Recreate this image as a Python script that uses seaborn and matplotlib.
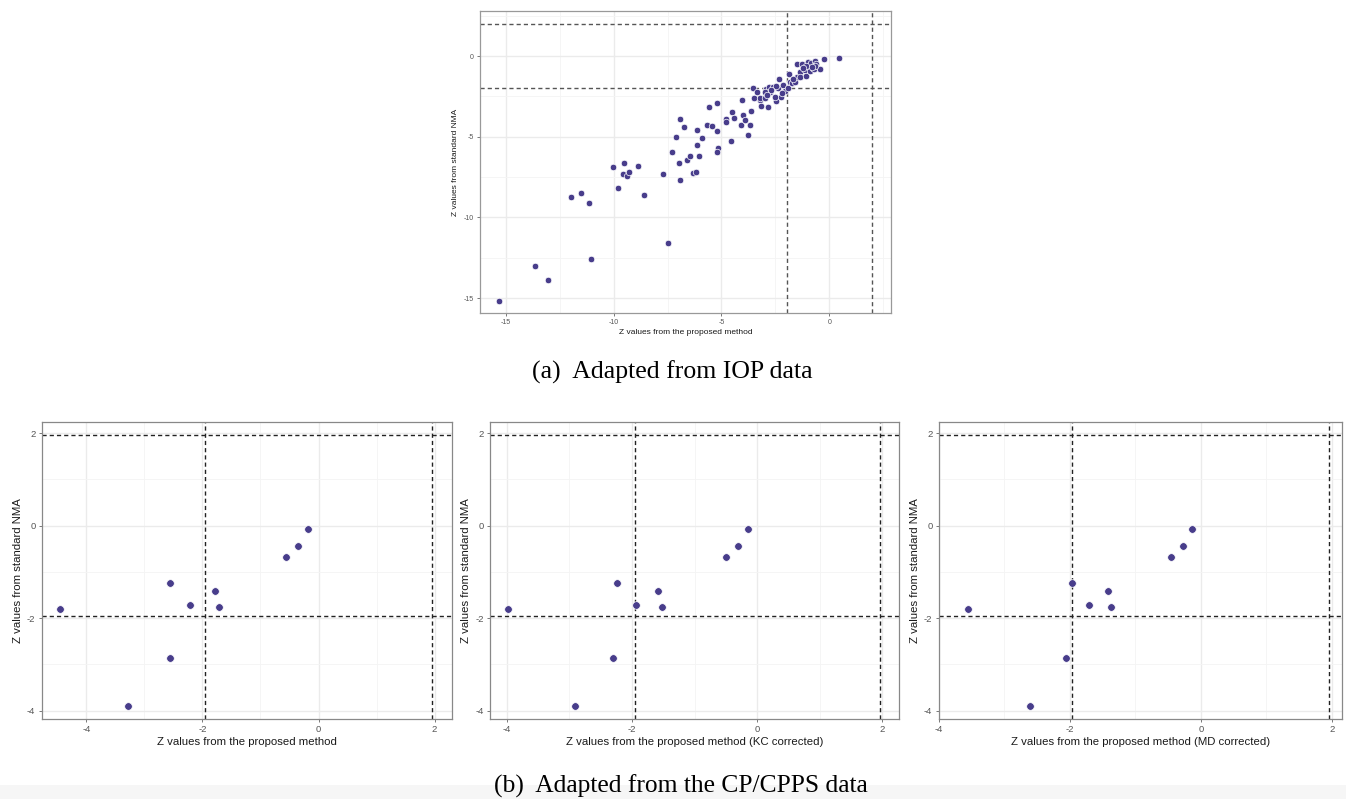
import numpy as np
import pandas as pd
import matplotlib
matplotlib.use('Agg')
import matplotlib.pyplot as plt
from matplotlib.patches import Rectangle
import seaborn as sns

# Panel (a): IOP data
iop_x = [-15.31, -13.63, -13.04, -11.99, -11.50, -11.13, -11.06, -10.02, -9.80, -9.54,
         -9.55, -9.40, -9.27, -8.86, -8.60, -7.72, -7.48, -7.28, -7.10, -6.93,
         -6.96, -6.91, -6.74, -6.60, -6.47, -6.34, -6.20, -6.14, -6.13, -6.02,
         -5.88, -5.69, -5.60, -5.45, -5.23, -5.19, -5.15, -5.20, -4.81, -4.81,
         -4.57, -4.49, -4.44, -4.10, -4.03, -4.00, -3.90, -3.75, -3.69, -3.61,
         -3.55, -3.47, -3.35, -3.23, -3.18, -3.19, -2.98, -2.95, -2.84, -2.79,
         -2.75, -2.47, -2.39, -2.33, -2.24, -2.15, -2.05, -1.90, -1.88, -1.82,
         -1.71, -1.60, -1.50, -1.50, -1.37, -1.37, -1.27, -1.11, -1.08, -1.00,
         -0.91, -0.85, -0.76, -0.73, -0.65, -0.60, -0.45, -0.23, 0.46,
         -1.06, -0.65, -2.61, -2.45, -2.70, -3.00, -2.90, -1.20, -0.80, -1.70,
         -2.20, -2.50]
iop_y = [-15.17, -13.02, -13.88, -8.74, -8.47, -9.13, -12.60, -6.88, -8.16, -6.61,
         -7.29, -7.44, -7.17, -6.80, -8.60, -7.29, -11.59, -5.93, -5.02, -3.90,
         -6.65, -7.71, -4.42, -6.45, -6.22, -7.23, -7.17, -4.61, -5.52, -6.22,
         -5.06, -4.30, -3.14, -4.32, -4.63, -2.93, -5.72, -5.93, -3.88, -4.09,
         -5.25, -3.47, -3.86, -4.30, -2.75, -3.64, -3.99, -4.88, -4.30, -3.41,
         -1.96, -2.58, -2.25, -2.73, -3.10, -2.58, -2.58, -2.05, -3.14, -1.92,
         -2.25, -2.79, -1.98, -1.45, -2.56, -1.82, -2.15, -1.98, -1.12, -1.61,
         -1.69, -1.63, -0.52, -1.32, -1.01, -1.32, -0.52, -0.89, -1.24, -0.35,
         -0.95, -0.45, -0.72, -0.81, -0.33, -0.50, -0.83, -0.21, -0.10,
         -0.62, -0.62, -1.90, -1.84, -2.10, -2.20, -2.40, -0.75, -0.65, -1.45,
         -2.30, -2.55]

# Panel (b): CP/CPPS data, same standard NMA z values in all three
cp_nma = [-1.81, -3.90, -1.23, -2.87, -1.72, -1.42, -1.76, -0.67, -0.44, -0.07]
cp_proposed = [-4.46, -3.28, -2.56, -2.56, -2.22, -1.79, -1.71, -0.56, -0.36, -0.18]
cp_kc = [-3.98, -2.91, -2.24, -2.30, -1.94, -1.59, -1.52, -0.50, -0.31, -0.15]
cp_md = [-3.56, -2.60, -1.96, -2.06, -1.70, -1.42, -1.37, -0.45, -0.27, -0.13]

x_labels = ['Z values from the proposed method',
            'Z values from the proposed method (KC corrected)',
            'Z values from the proposed method (MD corrected)']
y_label = 'Z values from standard NMA'
cap_a = '(a)  Adapted from IOP data'
cap_b = '(b)  Adapted from the CP/CPPS data'

POINT = '#483D8B'
CRIT = 1.96

sns.set_theme(style='white')
plt.rcParams['font.family'] = ['Liberation Sans', 'DejaVu Sans']
plt.rcParams['axes.unicode_minus'] = False


def style_panel(ax, xlim, ylim, major, minor_x, minor_y, fs_tick, fs_lab,
                xlabel, line_col, frame_col):
    ax.set_xlim(*xlim)
    ax.set_ylim(*ylim)
    ax.set_xticks(major[0])
    ax.set_yticks(major[1])
    ax.set_xticks(minor_x, minor=True)
    ax.set_yticks(minor_y, minor=True)
    ax.grid(which='major', color='#EBEBEB', linewidth=1.0)
    ax.grid(which='minor', color='#F4F4F4', linewidth=0.6)
    ax.set_axisbelow(True)
    for sp in ax.spines.values():
        sp.set_color(frame_col)
        sp.set_linewidth(0.9)
    ax.tick_params(which='major', length=2.5, width=0.5, color='#444444',
                   labelsize=fs_tick, labelcolor='#555555', pad=2,
                   bottom=True, left=True)
    ax.tick_params(which='minor', length=0)
    for v in (-CRIT, CRIT):
        ax.axhline(v, color=line_col, linestyle=(0, (3, 2.2)), linewidth=1.0, zorder=1)
        ax.axvline(v, color=line_col, linestyle=(0, (3, 2.2)), linewidth=1.0, zorder=1)
    ax.set_xlabel(xlabel, fontsize=fs_lab, color='#1a1a1a', labelpad=2)
    ax.set_ylabel(y_label, fontsize=fs_lab, color='#1a1a1a', labelpad=3)


fig = plt.figure(figsize=(13.46, 7.99), dpi=100)

# top panel
ax_a = fig.add_axes([480 / 1346, 1 - 313 / 799, 410.7 / 1346, 302 / 799])
df_a = pd.DataFrame({'proposed': iop_x, 'nma': iop_y})
sns.scatterplot(data=df_a, x='proposed', y='nma', ax=ax_a, color=POINT, s=22,
                edgecolor='white', linewidth=0.5, zorder=3)
style_panel(ax_a, (-16.2, 2.85), (-15.92, 2.79),
            ([-15, -10, -5, 0], [-15, -10, -5, 0]),
            [-12.5, -7.5, -2.5, 2.5], [-12.5, -7.5, -2.5, 2.5],
            5.0, 6.0, x_labels[0], '#555555', '#999999')

# bottom panels
bottom_boxes = [
    (41.7, 410.3, (-4.77, 2.3)),
    (490.0, 409.3, (-4.27, 2.27)),
    (938.7, 403.0, (-3.84, 2.15)),
]
bottom_x = [cp_proposed, cp_kc, cp_md]
for (left, width, xlim), xs, xl in zip(bottom_boxes, bottom_x, x_labels):
    ax = fig.add_axes([left / 1346, 1 - 719 / 799, width / 1346, 297.3 / 799])
    df_b = pd.DataFrame({'proposed': xs, 'nma': cp_nma})
    sns.scatterplot(data=df_b, x='proposed', y='nma', ax=ax, color=POINT, s=30,
                    edgecolor='white', linewidth=0.5, zorder=3)
    minor_x = [v for v in [-5, -3, -1, 1] if xlim[0] < v < xlim[1]]
    style_panel(ax, xlim, (-4.18, 2.25),
                ([-4, -2, 0, 2], [-4, -2, 0, 2]),
                minor_x, [-3, -1, 1],
                6.8, 8.2, xl, '#222222', '#888888')

# captions
fig.patches.append(Rectangle((0, 0), 1, 14 / 799, transform=fig.transFigure,
                             facecolor='#F6F6F6', edgecolor='none', zorder=0))
fig.text(672.5 / 1346, 1 - 372 / 799, cap_a, ha='center', va='center',
         fontsize=18.5, family=['Liberation Serif', 'DejaVu Serif'], color='black')
fig.text(680.8 / 1346, 1 - 786 / 799, cap_b, ha='center', va='center',
         fontsize=18.4, family=['Liberation Serif', 'DejaVu Serif'], color='black')

fig.savefig('out.png', dpi=100, facecolor='white')
